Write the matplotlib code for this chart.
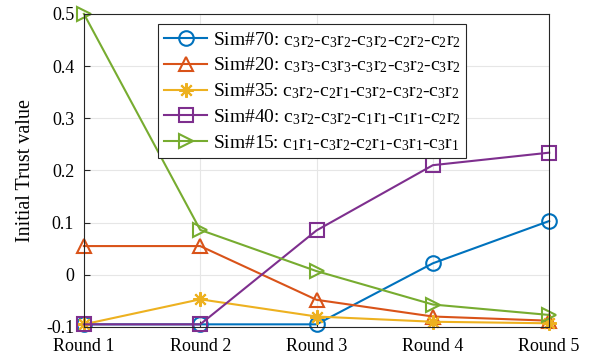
import numpy as np
import matplotlib.pyplot as plt

plt.rcParams['font.family'] = ['Liberation Serif', 'DejaVu Serif']
plt.rcParams['mathtext.fontset'] = 'custom'
plt.rcParams['mathtext.rm'] = 'Liberation Serif'
plt.rcParams['mathtext.it'] = 'Liberation Serif'
plt.rcParams['mathtext.default'] = 'rm'

rounds = ['Round 1', 'Round 2', 'Round 3', 'Round 4', 'Round 5']
sim70 = [-0.095, -0.095, -0.095, 0.022, 0.103]
sim20 = [0.055, 0.055, -0.048, -0.080, -0.088]
sim35 = [-0.095, -0.047, -0.080, -0.090, -0.093]
sim40 = [-0.095, -0.095, 0.085, 0.210, 0.234]
sim15 = [0.500, 0.086, 0.007, -0.057, -0.077]

labels = [
    r'Sim#70: c$_3$r$_2$-c$_3$r$_2$-c$_3$r$_2$-c$_2$r$_2$-c$_2$r$_2$',
    r'Sim#20: c$_3$r$_3$-c$_3$r$_3$-c$_3$r$_2$-c$_3$r$_2$-c$_3$r$_2$',
    r'Sim#35: c$_3$r$_2$-c$_2$r$_1$-c$_3$r$_2$-c$_3$r$_2$-c$_3$r$_2$',
    r'Sim#40: c$_3$r$_2$-c$_3$r$_2$-c$_1$r$_1$-c$_1$r$_1$-c$_2$r$_2$',
    r'Sim#15: c$_1$r$_1$-c$_3$r$_2$-c$_2$r$_1$-c$_3$r$_1$-c$_3$r$_1$',
]
series = [sim70, sim20, sim35, sim40, sim15]
colors = ['#0072BD', '#D95319', '#EDB120', '#7E2F8E', '#77AC30']
markers = ['o', '^', (8, 2, 0), 's', '>']

fig = plt.figure(figsize=(5.95, 3.55), dpi=100)
ax = fig.add_axes([0.141, 0.079, 0.782, 0.882])

x = np.arange(len(rounds))
for y, c, m, lab in zip(series, colors, markers, labels):
    ax.plot(x, y, color=c, marker=m, markersize=10.5, markerfacecolor='none',
            markeredgewidth=1.5, linewidth=1.5, label=lab, clip_on=False)

ax.set_xlim(0, 4)
ax.set_ylim(-0.1, 0.5)
ax.set_xticks(x)
ax.set_xticklabels(rounds)
ax.set_yticks([-0.1, 0, 0.1, 0.2, 0.3, 0.4, 0.5])
ax.set_yticklabels(['-0.1', '0', '0.1', '0.2', '0.3', '0.4', '0.5'])
ax.tick_params(direction='in', labelsize=13, length=4, color='#262626')
ax.tick_params(axis='y', pad=7)
ax.tick_params(axis='x', pad=8)
ax.set_ylabel('Initial Trust value', fontsize=14.5, labelpad=8)
ax.grid(True, color='#e6e6e6', linewidth=0.8)
ax.set_axisbelow(True)
for s in ax.spines.values():
    s.set_color('#262626')

leg = ax.legend(loc='upper left', bbox_to_anchor=(0.16, 0.967), fontsize=14,
                fancybox=False, edgecolor='#262626', framealpha=1,
                handlelength=2.2, labelspacing=0.31, borderpad=0.3,
                handletextpad=0.3, borderaxespad=0)
leg.get_frame().set_linewidth(0.8)

fig.savefig('out.png', dpi=100)
